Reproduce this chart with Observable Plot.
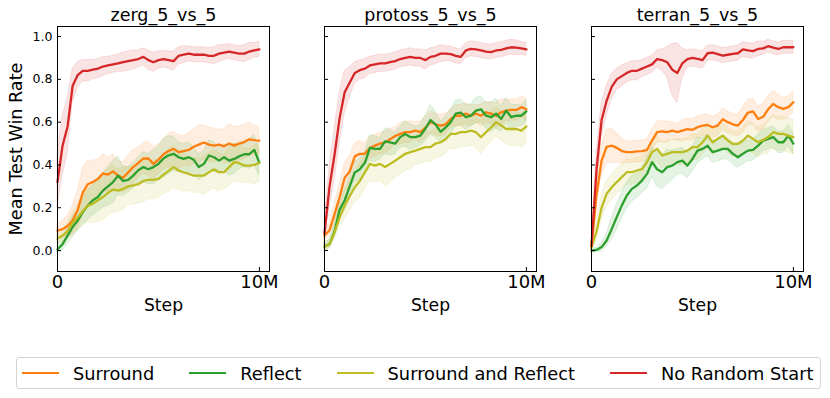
<!DOCTYPE html>
<html><head><meta charset="utf-8">
<script src="https://cdn.jsdelivr.net/npm/d3@7"></script>
<script src="https://cdn.jsdelivr.net/npm/@observablehq/plot@0.6"></script>
<style>
body{margin:0;background:#fff;font-family:"DejaVu Sans",sans-serif;}
#wrap{position:relative;width:830px;height:398px;overflow:hidden;}
#chart{position:absolute;left:0;top:0;}
#legend{position:absolute;left:16px;top:357px;width:805px;height:32px;box-sizing:border-box;border:1px solid #d4d4d4;border-radius:3px;display:flex;align-items:center;padding-left:5px;font-size:17.8px;color:#000;}
.item{display:flex;align-items:center;margin-right:35px;white-space:nowrap;}
.sw{width:37px;height:2.6px;margin-right:14px;}
</style></head>
<body><div id="wrap"><div id="chart"></div><div id="legend"></div></div>
<script>
// ---- data ----
const maps = ["zerg_5_vs_5", "protoss_5_vs_5", "terran_5_vs_5"];
const seriesNames = ["Surround", "Reflect", "Surround and Reflect", "No Random Start"];
const seriesColors = ["#ff7f0e", "#2ca02c", "#bcbd22", "#d62728"];
// training steps in millions
const stepsM = [0,0.25,0.5,0.75,1,1.25,1.5,1.75,2,2.25,2.5,2.75,3,3.25,3.5,3.75,4,4.25,4.5,4.75,5,5.25,5.5,5.75,6,6.25,6.5,6.75,7,7.25,7.5,7.75,8,8.25,8.5,8.75,9,9.25,9.5,9.75,10];
const xTicks = [0, 10];
const xTickLabels = ["0", "10M"];
const yTicks = [0, 0.2, 0.4, 0.6, 0.8, 1.0];

// zerg_5_vs_5
const zergSurround = [0.093,0.10,0.115,0.14,0.19,0.27,0.31,0.32,0.335,0.36,0.355,0.37,0.35,0.34,0.365,0.39,0.41,0.43,0.43,0.405,0.425,0.45,0.465,0.475,0.46,0.465,0.47,0.485,0.495,0.505,0.495,0.49,0.495,0.487,0.50,0.49,0.50,0.507,0.52,0.516,0.514];
const zergSurroundSpread = [0.03,0.04,0.05,0.07,0.09,0.11,0.11,0.10,0.09,0.09,0.08,0.08,0.07,0.07,0.08,0.08,0.07,0.07,0.08,0.08,0.07,0.07,0.08,0.08,0.08,0.07,0.08,0.08,0.09,0.08,0.08,0.08,0.07,0.08,0.09,0.09,0.08,0.08,0.08,0.07,0.06];
const zergReflect = [0.005,0.03,0.07,0.11,0.14,0.18,0.21,0.235,0.25,0.28,0.30,0.32,0.35,0.325,0.33,0.35,0.375,0.39,0.38,0.39,0.405,0.43,0.445,0.452,0.436,0.428,0.436,0.424,0.39,0.405,0.444,0.436,0.42,0.436,0.42,0.428,0.44,0.45,0.45,0.47,0.41];
const zergReflectSpread = [0.02,0.03,0.04,0.05,0.05,0.06,0.07,0.07,0.07,0.08,0.09,0.10,0.09,0.07,0.06,0.06,0.06,0.07,0.07,0.08,0.08,0.09,0.09,0.08,0.07,0.07,0.07,0.06,0.06,0.06,0.07,0.07,0.06,0.06,0.07,0.07,0.06,0.06,0.07,0.07,0.06];
const zergBoth = [0.055,0.07,0.09,0.13,0.155,0.185,0.21,0.218,0.235,0.25,0.27,0.285,0.28,0.288,0.30,0.304,0.31,0.325,0.33,0.33,0.335,0.355,0.372,0.39,0.374,0.366,0.358,0.35,0.35,0.35,0.366,0.38,0.366,0.366,0.39,0.413,0.408,0.397,0.397,0.40,0.41];
const zergBothSpread = [0.02,0.03,0.04,0.05,0.06,0.07,0.08,0.09,0.10,0.11,0.11,0.11,0.10,0.10,0.09,0.09,0.09,0.10,0.09,0.09,0.09,0.09,0.10,0.10,0.09,0.09,0.08,0.08,0.08,0.09,0.09,0.09,0.09,0.08,0.09,0.09,0.09,0.08,0.08,0.09,0.09];
const zergNoRandom = [0.32,0.49,0.58,0.77,0.82,0.84,0.84,0.845,0.85,0.86,0.865,0.87,0.875,0.88,0.885,0.89,0.895,0.905,0.89,0.88,0.89,0.895,0.89,0.885,0.91,0.915,0.92,0.915,0.915,0.915,0.91,0.91,0.92,0.925,0.93,0.925,0.92,0.92,0.93,0.935,0.94];
const zergNoRandomSpread = [0.12,0.14,0.13,0.08,0.06,0.05,0.05,0.045,0.045,0.045,0.04,0.04,0.04,0.045,0.045,0.045,0.04,0.04,0.045,0.045,0.04,0.04,0.04,0.045,0.04,0.04,0.035,0.035,0.035,0.035,0.035,0.04,0.04,0.035,0.035,0.035,0.035,0.04,0.04,0.035,0.035];

// protoss_5_vs_5
const protossSurround = [0.07,0.095,0.17,0.25,0.34,0.37,0.44,0.452,0.452,0.48,0.49,0.50,0.505,0.52,0.535,0.545,0.553,0.553,0.56,0.553,0.575,0.60,0.59,0.584,0.59,0.615,0.63,0.63,0.64,0.63,0.64,0.63,0.646,0.64,0.63,0.646,0.654,0.657,0.657,0.67,0.66];
const protossSurroundSpread = [0.02,0.03,0.05,0.06,0.07,0.07,0.06,0.06,0.05,0.05,0.05,0.05,0.05,0.05,0.04,0.05,0.05,0.05,0.04,0.05,0.05,0.05,0.05,0.05,0.05,0.04,0.05,0.05,0.05,0.05,0.04,0.05,0.05,0.05,0.06,0.06,0.05,0.05,0.05,0.05,0.05];
const protossReflect = [0.02,0.03,0.09,0.19,0.235,0.30,0.365,0.38,0.41,0.48,0.475,0.475,0.51,0.505,0.50,0.53,0.545,0.53,0.53,0.537,0.57,0.61,0.59,0.555,0.575,0.60,0.64,0.645,0.623,0.63,0.654,0.66,0.63,0.623,0.64,0.615,0.654,0.623,0.63,0.63,0.65];
const protossReflectSpread = [0.02,0.02,0.03,0.04,0.05,0.05,0.05,0.05,0.05,0.06,0.06,0.05,0.06,0.06,0.05,0.05,0.06,0.06,0.05,0.05,0.06,0.07,0.06,0.05,0.05,0.06,0.06,0.06,0.06,0.05,0.06,0.06,0.06,0.07,0.07,0.06,0.06,0.06,0.05,0.05,0.05];
const protossBoth = [0.016,0.03,0.085,0.155,0.21,0.255,0.295,0.325,0.365,0.405,0.397,0.405,0.39,0.405,0.42,0.436,0.452,0.46,0.467,0.475,0.483,0.483,0.50,0.506,0.52,0.545,0.545,0.553,0.553,0.56,0.553,0.53,0.553,0.575,0.60,0.584,0.568,0.568,0.568,0.56,0.58];
const protossBothSpread = [0.02,0.02,0.03,0.05,0.06,0.07,0.07,0.08,0.08,0.08,0.08,0.08,0.09,0.09,0.08,0.08,0.08,0.08,0.07,0.07,0.07,0.07,0.07,0.07,0.07,0.07,0.07,0.07,0.07,0.07,0.07,0.08,0.07,0.07,0.07,0.07,0.07,0.08,0.08,0.08,0.08];
const protossNoRandom = [0.08,0.30,0.45,0.62,0.74,0.785,0.83,0.843,0.85,0.865,0.87,0.875,0.875,0.88,0.885,0.895,0.90,0.905,0.90,0.90,0.89,0.905,0.91,0.92,0.92,0.918,0.91,0.905,0.935,0.942,0.94,0.935,0.93,0.927,0.935,0.938,0.945,0.95,0.948,0.945,0.94];
const protossNoRandomSpread = [0.05,0.10,0.12,0.12,0.10,0.07,0.05,0.045,0.045,0.04,0.04,0.04,0.04,0.04,0.04,0.04,0.04,0.04,0.04,0.04,0.045,0.04,0.04,0.04,0.035,0.035,0.035,0.035,0.035,0.035,0.035,0.035,0.035,0.035,0.035,0.035,0.035,0.035,0.035,0.03,0.03];

// terran_5_vs_5
const terranSurround = [0.02,0.26,0.42,0.485,0.49,0.48,0.465,0.46,0.46,0.463,0.465,0.47,0.514,0.553,0.557,0.553,0.56,0.553,0.56,0.567,0.564,0.576,0.584,0.587,0.576,0.584,0.614,0.60,0.59,0.584,0.61,0.645,0.65,0.615,0.625,0.66,0.685,0.67,0.662,0.67,0.693];
const terranSurroundSpread = [0.02,0.05,0.07,0.08,0.08,0.07,0.06,0.05,0.05,0.05,0.05,0.05,0.05,0.05,0.05,0.05,0.04,0.04,0.05,0.05,0.05,0.05,0.05,0.05,0.05,0.05,0.05,0.05,0.05,0.05,0.06,0.06,0.06,0.06,0.06,0.06,0.06,0.06,0.05,0.05,0.05];
const terranReflect = [0.0,0.003,0.016,0.047,0.10,0.156,0.21,0.257,0.288,0.304,0.327,0.358,0.413,0.38,0.366,0.39,0.397,0.413,0.42,0.397,0.428,0.467,0.475,0.49,0.46,0.467,0.475,0.475,0.452,0.436,0.452,0.467,0.47,0.49,0.514,0.522,0.53,0.506,0.506,0.537,0.50];
const terranReflectSpread = [0.01,0.01,0.02,0.03,0.05,0.06,0.06,0.06,0.06,0.06,0.06,0.07,0.07,0.08,0.08,0.08,0.07,0.06,0.06,0.06,0.06,0.06,0.05,0.05,0.05,0.05,0.05,0.05,0.05,0.05,0.05,0.05,0.05,0.05,0.05,0.05,0.05,0.05,0.05,0.05,0.05];
const terranBoth = [0.016,0.09,0.20,0.265,0.295,0.32,0.343,0.366,0.366,0.374,0.38,0.413,0.46,0.475,0.444,0.452,0.46,0.46,0.46,0.467,0.483,0.483,0.506,0.537,0.506,0.522,0.537,0.514,0.498,0.498,0.514,0.537,0.522,0.506,0.517,0.53,0.553,0.545,0.545,0.537,0.53];
const terranBothSpread = [0.02,0.05,0.06,0.06,0.06,0.06,0.06,0.06,0.06,0.06,0.06,0.06,0.06,0.06,0.06,0.06,0.06,0.06,0.06,0.06,0.06,0.06,0.06,0.06,0.06,0.06,0.06,0.06,0.06,0.06,0.06,0.07,0.07,0.07,0.07,0.08,0.08,0.08,0.08,0.08,0.08];
const terranNoRandom = [0.02,0.38,0.61,0.70,0.765,0.80,0.815,0.83,0.84,0.84,0.85,0.86,0.87,0.895,0.89,0.88,0.845,0.83,0.875,0.895,0.90,0.896,0.89,0.922,0.925,0.918,0.911,0.915,0.919,0.922,0.94,0.935,0.932,0.942,0.945,0.955,0.948,0.942,0.95,0.95,0.95];
const terranNoRandomSpread = [0.02,0.08,0.08,0.07,0.06,0.05,0.05,0.045,0.045,0.045,0.04,0.04,0.04,0.04,0.05,0.07,0.12,0.14,0.07,0.04,0.04,0.04,0.04,0.035,0.035,0.035,0.035,0.035,0.035,0.035,0.035,0.035,0.035,0.035,0.03,0.03,0.03,0.03,0.03,0.03,0.03];

// ---- build table ----
const panels = [
  {map: maps[0], means: [zergSurround, zergReflect, zergBoth, zergNoRandom], spreads: [zergSurroundSpread, zergReflectSpread, zergBothSpread, zergNoRandomSpread]},
  {map: maps[1], means: [protossSurround, protossReflect, protossBoth, protossNoRandom], spreads: [protossSurroundSpread, protossReflectSpread, protossBothSpread, protossNoRandomSpread]},
  {map: maps[2], means: [terranSurround, terranReflect, terranBoth, terranNoRandom], spreads: [terranSurroundSpread, terranReflectSpread, terranBothSpread, terranNoRandomSpread]}
];
const rows = [];
panels.forEach(p => p.means.forEach((vals, s) => vals.forEach((v, i) => {
  rows.push({map: p.map, series: seriesNames[s], step: stepsM[i], mean: v, lo: v - p.spreads[s][i], hi: v + p.spreads[s][i]});
})));
const facetRows = maps.map(m => ({map: m}));

const font = "DejaVu Sans";
const chart = Plot.plot({
  width: 830,
  height: 330,
  marginLeft: 57,
  marginRight: 27,
  marginTop: 26,
  marginBottom: 59,
  style: {fontFamily: font, color: "#000", background: "#fff"},
  fx: {domain: maps, axis: null, paddingInner: 0.206, paddingOuter: 0},
  x: {domain: [0, 10.5]},
  y: {domain: [-0.098, 1.047]},
  color: {domain: seriesNames, range: seriesColors},
  marks: [
    Plot.areaY(rows, {fx: "map", x: "step", y1: "lo", y2: "hi", z: "series", fill: "series", fillOpacity: 0.13, stroke: "series", strokeOpacity: 0.12, strokeWidth: 1}),
    Plot.lineY(rows, {fx: "map", x: "step", y: "mean", z: "series", stroke: "series", strokeWidth: 2.3, strokeLinejoin: "round"}),
    Plot.frame({stroke: "#000", strokeWidth: 1}),
    // inward tick marks on every panel
    Plot.axisY({ticks: yTicks, tickSize: -4, text: null, label: null, facetAnchor: null, stroke: "#000"}),
    Plot.axisX({ticks: xTicks, tickSize: -4, text: null, label: null, facetAnchor: null, stroke: "#000"}),
    // tick labels
    Plot.axisY({ticks: yTicks, tickSize: 0, tickPadding: 5, tickFormat: d3.format(".1f"), label: null, fontSize: 12.5, facetAnchor: "left"}),
    Plot.axisX({ticks: xTicks, tickSize: 0, tickPadding: 4, tickFormat: d => xTickLabels[xTicks.indexOf(d)], label: null, fontSize: 18, facetAnchor: null}),
    // titles and axis labels
    Plot.text(facetRows, {fx: "map", text: "map", frameAnchor: "top", dy: -11, fontSize: 17.5, lineAnchor: "middle", fill: "#000"}),
    Plot.text(facetRows, {fx: "map", text: () => "Step", frameAnchor: "bottom", dy: 34, fontSize: 17.2, lineAnchor: "middle", fill: "#000"}),
    Plot.text([{map: maps[0]}], {fx: "map", text: () => "Mean Test Win Rate", frameAnchor: "left", textAnchor: "middle", dx: -41, rotate: -90, fontSize: 17.6, lineAnchor: "middle", fill: "#000"})
  ]
});
document.getElementById("chart").appendChild(chart);

// ---- legend ----
const legend = document.getElementById("legend");
seriesNames.forEach((name, i) => {
  const item = document.createElement("div");
  item.className = "item";
  const sw = document.createElement("span");
  sw.className = "sw";
  sw.style.background = seriesColors[i];
  const label = document.createElement("span");
  label.textContent = name;
  item.appendChild(sw);
  item.appendChild(label);
  legend.appendChild(item);
});
</script>
</body></html>
